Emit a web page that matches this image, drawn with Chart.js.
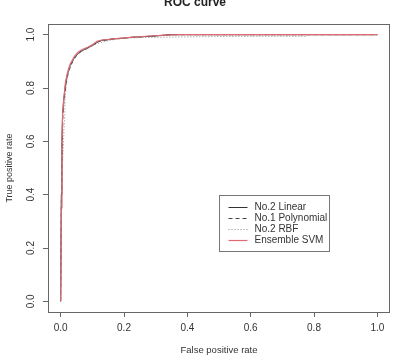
<!DOCTYPE html>
<html>
<head>
<meta charset="utf-8">
<script src="https://cdn.jsdelivr.net/npm/chart.js@4"></script>
<style>
  body { margin: 0; background: #fff; }
  #wrap { width: 396px; height: 360px; }
</style>
</head>
<body>
<div id="wrap"><canvas id="roc" width="396" height="360"></canvas></div>
<script>
// --------- DADOS ----------
const xTicks = [0, 0.2, 0.4, 0.6, 0.8, 1.0];
const yTicks = [0, 0.2, 0.4, 0.6, 0.8, 1.0];

const linearFpr = [0, 0.002, 0.004, 0.006, 0.009, 0.012, 0.016, 0.02, 0.024, 0.03, 0.036, 0.042, 0.048, 0.056, 0.064, 0.072, 0.082, 0.092, 0.104, 0.116, 0.13, 0.15, 0.17, 0.2, 0.23, 0.27, 0.31, 0.34, 1.0];
const linearTpr = [0, 0.40, 0.60, 0.70, 0.75, 0.78, 0.82, 0.845, 0.862, 0.884, 0.897, 0.912, 0.92, 0.93, 0.938, 0.942, 0.95, 0.954, 0.962, 0.972, 0.979, 0.981, 0.985, 0.987, 0.991, 0.993, 0.996, 1.0, 1.0];

const polyFpr = [0, 0.002, 0.005, 0.007, 0.01, 0.013, 0.017, 0.021, 0.026, 0.032, 0.038, 0.044, 0.05, 0.058, 0.066, 0.075, 0.085, 0.095, 0.107, 0.12, 0.135, 0.155, 0.18, 0.21, 0.24, 0.28, 0.32, 0.36, 1.0];
const polyTpr = [0, 0.36, 0.58, 0.69, 0.745, 0.775, 0.815, 0.84, 0.866, 0.882, 0.9, 0.91, 0.922, 0.928, 0.94, 0.944, 0.948, 0.956, 0.966, 0.975, 0.978, 0.983, 0.984, 0.989, 0.99, 0.994, 0.997, 1.0, 1.0];

const rbfFpr = [0, 0.003, 0.006, 0.009, 0.011, 0.013, 0.014, 0.017, 0.022, 0.028, 0.036, 0.045, 0.056, 0.07, 0.085, 0.1, 0.12, 0.15, 0.19, 0.25, 0.35, 0.5, 0.65, 0.778];
const rbfTpr = [0, 0.35, 0.52, 0.60, 0.66, 0.70, 0.76, 0.80, 0.845, 0.875, 0.9, 0.915, 0.928, 0.94, 0.95, 0.958, 0.968, 0.978, 0.986, 0.989, 0.991, 0.993, 0.994, 0.994];

const ensembleFpr = [0, 0.002, 0.004, 0.006, 0.01, 0.015, 0.022, 0.03, 0.044, 0.055, 0.07, 0.085, 0.1, 0.115, 0.13, 0.175, 0.22, 0.28, 0.33, 0.38, 1.0];
const ensembleTpr = [0, 0.35, 0.60, 0.70, 0.76, 0.82, 0.86, 0.89, 0.92, 0.935, 0.945, 0.953, 0.962, 0.975, 0.98, 0.985, 0.99, 0.995, 0.998, 1.0, 1.0];

const toPoints = (xs, ys) => xs.map((x, i) => ({x: x, y: ys[i]}));

const fontFamily = "'Liberation Sans', Arial, sans-serif";
const boxColor = "#666";

// --------- PLUGIN: CAIXA + LEGENDA (estilo R) ----------
const rStyle = {
    id: "rStyle",
    afterDatasetsDraw(chart){
        const {ctx, chartArea: a, scales} = chart;
        ctx.save();
        ctx.strokeStyle = boxColor;
        ctx.lineWidth = 1;
        ctx.strokeRect(Math.round(a.left) + 0.5, Math.round(a.top) + 0.5,
                       Math.round(a.right - a.left) - 1, Math.round(a.bottom - a.top));

        // legenda ancorada em (0.5, 0.4) como legend(0.5, 0.4, ...)
        const lx = Math.round(scales.x.getPixelForValue(0.5)) + 0.5;
        const ly = Math.round(scales.y.getPixelForValue(0.4)) + 0.5;
        const w = 110, h = 56, rowH = 11;
        ctx.strokeStyle = "#777";
        ctx.strokeRect(lx, ly, w, h);
        ctx.font = "10px " + fontFamily;
        ctx.textBaseline = "middle";
        ctx.fillStyle = "#333";
        chart.data.datasets.forEach((ds, i) => {
            const yy = ly + 12 + i * rowH;
            ctx.beginPath();
            ctx.strokeStyle = ds.borderColor;
            ctx.lineWidth = ds.borderWidth;
            ctx.setLineDash(ds.borderDash || []);
            ctx.moveTo(lx + 9, yy);
            ctx.lineTo(lx + 28, yy);
            ctx.stroke();
            ctx.setLineDash([]);
            ctx.fillText(ds.label, lx + 35, yy);
        });
        ctx.restore();
    }
};

// --------- GRÁFICO ----------
function axisOpts(ticksArr, titleText, titleSize, extra){
    return Object.assign({
        type: "linear",
        min: -0.04,
        max: 1.04,
        afterBuildTicks: scale => { scale.ticks = ticksArr.map(v => ({value: v})); },
        grid: { drawOnChartArea: false, drawTicks: true, tickLength: 5, color: boxColor },
        border: { display: false },
        title: { display: true, text: titleText, color: "#333", font: { family: fontFamily, size: titleSize } }
    }, extra);
}

new Chart(document.getElementById("roc"), {
    type: "scatter",
    data: {
        datasets: [
            { label: "No.2 Linear", data: toPoints(linearFpr, linearTpr), borderColor: "#333", borderWidth: 1, order: 3 },
            { label: "No.1 Polynomial", data: toPoints(polyFpr, polyTpr), borderColor: "#444", borderWidth: 1, borderDash: [4, 3], order: 2 },
            { label: "No.2 RBF", data: toPoints(rbfFpr, rbfTpr), borderColor: "#888", borderWidth: 1, borderDash: [1, 2], order: 1 },
            { label: "Ensemble SVM", data: toPoints(ensembleFpr, ensembleTpr), borderColor: "#df6a72", borderWidth: 1.2, order: 0 }
        ].map(ds => Object.assign(ds, { showLine: true, pointRadius: 0, fill: false, tension: 0 }))
    },
    options: {
        responsive: false,
        animation: false,
        devicePixelRatio: 1,
        layout: { padding: { left: 0, right: 6, top: 0, bottom: 0 } },
        plugins: {
            legend: { display: false },
            tooltip: { enabled: false },
            title: {
                display: true,
                text: "ROC curve",
                color: "#222",
                font: { family: fontFamily, size: 12, weight: "bold" },
                padding: { top: -5, bottom: 14.6 }
            }
        },
        scales: {
            x: axisOpts(xTicks, "False positive rate", 9.5, {
                afterFit: s => { s.height = 48; },
                ticks: { padding: 5, color: "#333", font: { family: fontFamily, size: 10 }, maxRotation: 0,
                         callback: v => v.toFixed(1) }
            }),
            y: axisOpts(yTicks, "True positive rate", 9, {
                afterFit: s => { s.width = 48; },
                ticks: { padding: 5, color: "#333", font: { family: fontFamily, size: 10 },
                         minRotation: 90, maxRotation: 90, crossAlign: "center",
                         callback: v => v.toFixed(1) }
            })
        }
    },
    plugins: [rStyle]
});
</script>
</body>
</html>
